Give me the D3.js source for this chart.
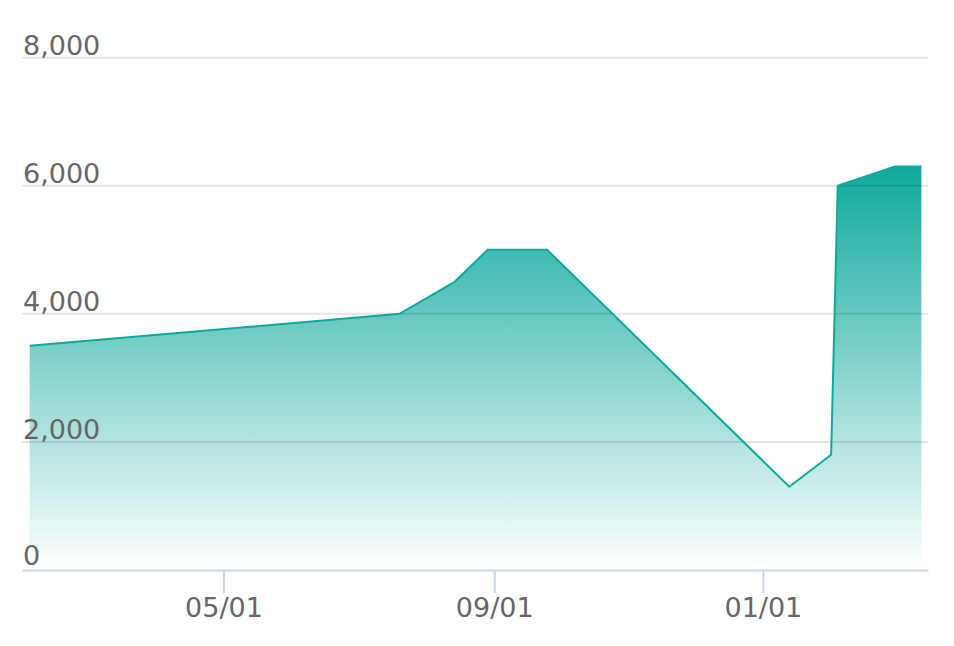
<!DOCTYPE html>
<html>
<head>
<meta charset="utf-8">
<script src="https://cdn.jsdelivr.net/npm/d3@7/dist/d3.min.js"></script>
<style>
  html, body { margin: 0; padding: 0; background: #fff; }
  svg { display: block; }
  text { font-family: "DejaVu Sans", sans-serif; }
</style>
</head>
<body>
<svg id="chart" width="954" height="646"></svg>
<script>
// ---- data ----
const dates = ["2018-02-02", "2018-07-20", "2018-08-14", "2018-08-29", "2018-09-25",
               "2019-01-13", "2019-02-01", "2019-02-04", "2019-03-02", "2019-03-14"];
const values = [3500, 4000, 4500, 5000, 5000, 1300, 1800, 6000, 6300, 6300];
const yTicks = [0, 2000, 4000, 6000, 8000];
const xTickDates = ["2018-05-01", "2018-09-01", "2019-01-01"];
const xDomain = ["2018-01-29T12:00", "2019-03-17T00:00"];

(function () {
const parse = d3.utcParse("%Y-%m-%d");
const parseT = d3.utcParse("%Y-%m-%dT%H:%M");
const data = dates.map((d, i) => ({ date: parse(d), value: values[i] }));

const svg = d3.select("#chart");
const mLeft = 22, mRight = 928, mTop = 57.7, mBottom = 570;

const x = d3.scaleUtc().domain(xDomain.map(parseT)).range([mLeft, mRight]);
const y = d3.scaleLinear().domain([0, 8000]).range([mBottom, mTop]);

const color = "#0ea99c";

// gradient
const defs = svg.append("defs");
const grad = defs.append("linearGradient")
  .attr("id", "areaGrad")
  .attr("gradientUnits", "userSpaceOnUse")
  .attr("x1", 0).attr("x2", 0)
  .attr("y1", y(d3.max(values))).attr("y2", mBottom);
grad.append("stop").attr("offset", "0%").attr("stop-color", color).attr("stop-opacity", 1);
grad.append("stop").attr("offset", "100%").attr("stop-color", color).attr("stop-opacity", 0.0);

// area
const area = d3.area()
  .x(d => x(d.date))
  .y0(mBottom)
  .y1(d => y(d.value));
svg.append("path")
  .datum(data)
  .attr("d", area)
  .attr("fill", "url(#areaGrad)");

// grid lines (drawn over the area, translucent)
svg.append("g").selectAll("line")
  .data(yTicks.filter(t => t !== 0))
  .join("line")
  .attr("x1", mLeft).attr("x2", mRight)
  .attr("y1", d => y(d)).attr("y2", d => y(d))
  .attr("stroke", "rgba(0,0,0,0.1)").attr("stroke-width", 2);

// line
const line = d3.line()
  .x(d => x(d.date))
  .y(d => y(d.value));
svg.append("path")
  .datum(data)
  .attr("d", line)
  .attr("fill", "none")
  .attr("stroke", color)
  .attr("stroke-width", 2)
  .attr("stroke-linejoin", "miter");

// y labels
svg.append("g").selectAll("text")
  .data(yTicks)
  .join("text")
  .attr("x", mLeft + 1)
  .attr("y", d => y(d) - (d === 0 ? 5 : 3))
  .attr("fill", "#666")
  .attr("font-size", 27)
  .text(d => d3.format(",")(d));

// x axis
const xAxis = d3.axisBottom(x)
  .tickValues(xTickDates.map(parse))
  .tickFormat(d3.utcFormat("%m/%d"))
  .tickSize(23)
  .tickSizeOuter(0)
  .tickPadding(5);
const gx = svg.append("g")
  .attr("transform", `translate(0,${mBottom})`)
  .call(xAxis);
gx.select(".domain").attr("stroke", "#cdd4ea").attr("stroke-width", 2);
gx.selectAll(".tick line").attr("stroke", "#cdd4ea").attr("stroke-width", 2);
gx.selectAll(".tick text")
  .attr("fill", "#666")
  .attr("font-size", 27)
  .attr("font-family", "DejaVu Sans, sans-serif");
})();
</script>
</body>
</html>
